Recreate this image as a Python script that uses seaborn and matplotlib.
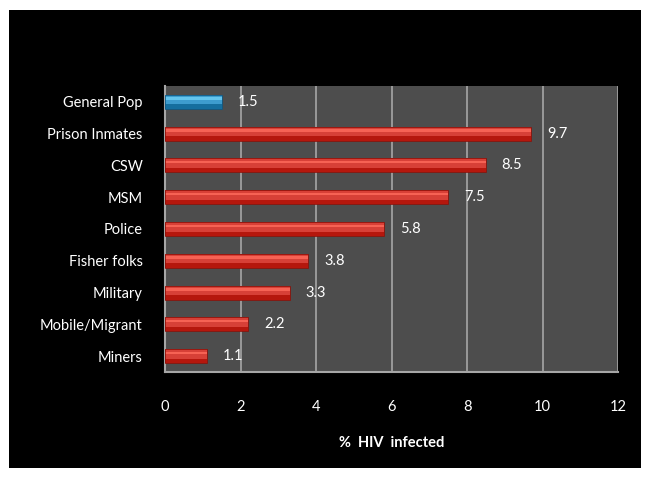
import matplotlib
matplotlib.use("Agg")
import matplotlib.pyplot as plt
import seaborn as sns
import pandas as pd
from matplotlib.patches import Rectangle

groups = ['General Pop', 'Prison Inmates', 'CSW', 'MSM', 'Police',
          'Fisher folks', 'Military', 'Mobile/Migrant', 'Miners']
prevalence = [1.5, 9.7, 8.5, 7.5, 5.8, 3.8, 3.3, 2.2, 1.1]
xticks = [0, 2, 4, 6, 8, 10, 12]

df = pd.DataFrame({'group': groups, 'pct': prevalence})

sns.set_style("dark")
plt.rcParams['font.family'] = ['Lato', 'DejaVu Sans']

fig = plt.figure(figsize=(6.5, 4.79), dpi=100)
fig.patch.set_facecolor('white')
fig.add_artist(Rectangle((9 / 650, 1 - 468 / 479), 632 / 650, 458 / 479,
                         transform=fig.transFigure, facecolor='black',
                         edgecolor='none', zorder=0))

ax = fig.add_axes([165 / 650, 1 - 372 / 479, 453 / 650, 286 / 479])
ax.set_facecolor('#4d4d4d')

colors = ['#25a3e6'] + ['#f2281c'] * (len(groups) - 1)
sns.barplot(data=df, x='pct', y='group', hue='group', palette=colors,
            legend=False, orient='h', width=0.44, ax=ax, zorder=3,
            edgecolor='none')

# bevel: dark bottom band, light highlight strip near the top
for bar, c in zip(ax.patches, colors):
    x0, y0 = bar.get_x(), bar.get_y()
    w, h = bar.get_width(), bar.get_height()
    blue = c == colors[0]
    dark = '#156e9e' if blue else '#b5170d'
    light = '#6fd0f7' if blue else '#ff6b5c'
    edge = '#0f5a85' if blue else '#8e120a'
    ax.add_patch(Rectangle((x0, y0 + h * 0.68), w, h * 0.32, facecolor=dark,
                           edgecolor='none', zorder=4))
    ax.add_patch(Rectangle((x0, y0 + h * 0.18), w, h * 0.18, facecolor=light,
                           edgecolor='none', alpha=0.8, zorder=4))
    ax.add_patch(Rectangle((x0, y0), w, h, facecolor='none',
                           edgecolor=edge, linewidth=0.6, zorder=5))

for i, v in enumerate(prevalence):
    ax.text(v + 0.42, i, f'{v:.1f}', color='white', va='center', ha='left',
            fontsize=10.5)

ax.set_xlim(0, 12)
ax.set_xticks(xticks)
ax.set_xticklabels([str(t) for t in xticks], color='white', fontsize=10.5)
ax.tick_params(axis='x', length=5, color='#a6a6a6', pad=15, width=1.2)
ax.tick_params(axis='y', length=0, pad=16, labelcolor='white', labelsize=10.5)
ax.grid(axis='x', color='#a6a6a6', linewidth=1.2, zorder=1)
ax.grid(axis='y', visible=False)
ax.set_axisbelow(True)

for side in ['top', 'right']:
    ax.spines[side].set_visible(False)
for side in ['left', 'bottom']:
    ax.spines[side].set_visible(True)
    ax.spines[side].set_color('#a6a6a6')
    ax.spines[side].set_linewidth(1.5)

ax.set_ylabel('')
ax.set_xlabel('%  HIV  infected', color='white', fontsize=10.5,
              fontweight='bold', labelpad=16)

fig.savefig('out.png', dpi=100)
